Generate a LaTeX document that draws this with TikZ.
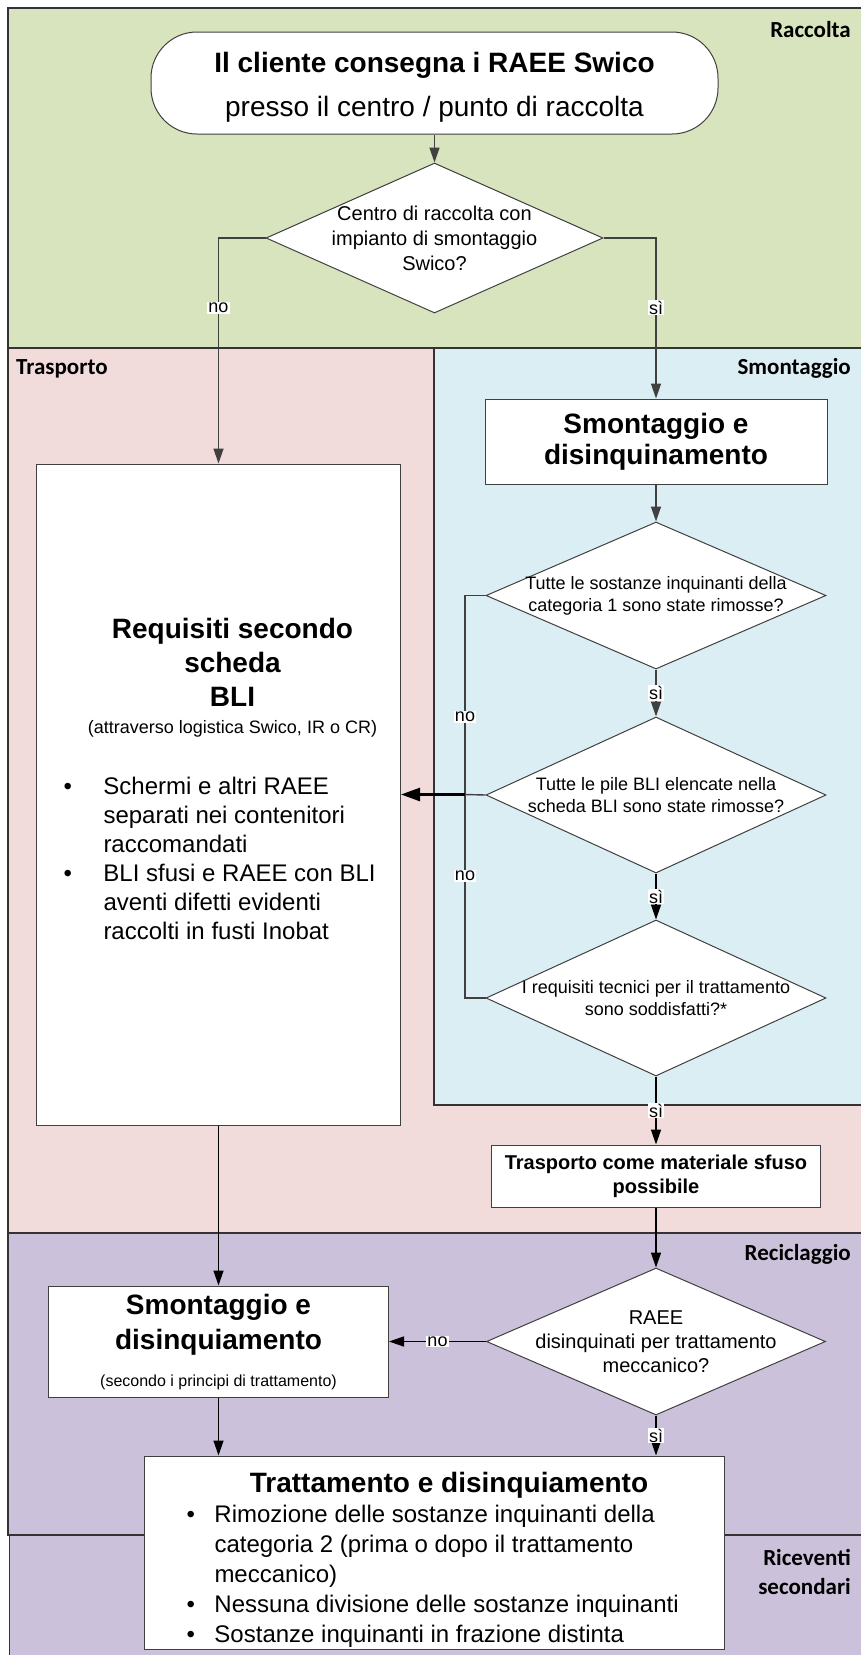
\documentclass[tikz,border=0pt]{standalone}
\usepackage{fontspec}
\setmainfont{Liberation Sans}
\newfontfamily\lanefont{Carlito}
\usepackage{tikz}
\usetikzlibrary{arrows.meta, shapes.geometric}
\usepackage{xcolor}

\definecolor{raccolta}{HTML}{D7E4BD}
\definecolor{trasporto}{HTML}{F2DCDB}
\definecolor{smontaggio}{HTML}{DBEEF3}
\definecolor{riciclo}{HTML}{CCC1DA}
\definecolor{linegray}{HTML}{404040}

\newcommand{\bul}[2]{\par\noindent\hangindent=#1\hangafter=1\makebox[#1][l]{\hspace{5pt}\textbullet}#2\par}
\newcommand{\offcenter}[1]{\leftskip=#1 plus 1fil\rightskip=0pt plus 1fil\parfillskip=0pt}

\begin{document}
\begin{tikzpicture}[x=1pt, y=-1pt,
        lane/.style={draw=black!80, line width=1.2pt},
        procbox/.style={draw=black!75, fill=white, line width=1pt, inner sep=0pt,
            execute at begin node={\spaceskip=0pt\xspaceskip=0pt}},
        decision/.style={diamond, draw=black!75, fill=white, line width=1pt, aspect=2.3,
            inner xsep=-35pt, inner ysep=-5pt, align=center,
            execute at begin node={\spaceskip=0pt\xspaceskip=0pt}},
        conn/.style={draw=linegray, line width=1.4pt},
        flow/.style={conn, -{Triangle[length=15pt, width=10pt]}},
        flowb/.style={draw=black, line width=1.4pt, -{Triangle[length=15pt, width=10pt]}},
        thickflow/.style={draw=black, line width=2.6pt, -{Triangle[length=19pt, width=13pt]}},
        lbl/.style={fill=white, inner sep=1pt, font=\fontsize{18}{18}\selectfont},
        lanelabel/.style={inner sep=0pt, text height=16pt, text depth=5pt,
            font=\lanefont\bfseries\fontsize{23}{29}\selectfont}]
            \useasboundingbox (0,0) rectangle (860,1655);
            \fill[white] (0,0) rectangle (860,1655);

            % lanes
            \draw[lane, fill=raccolta] (8,8) rectangle (866,348);
            \draw[lane, fill=trasporto] (8,348) rectangle (866,1233);
            \draw[lane, fill=smontaggio] (434,348) rectangle (866,1105);
            \draw[lane, line width=2.6pt] (434,1105) -- (866,1105);
            \draw[lane, fill=riciclo] (8,1233) rectangle (866,1535);
            \draw[lane, fill=riciclo] (9.5,1535) rectangle (866,1662);

            \node[lanelabel, anchor=east] (lraccolta) at (851,32) {Raccolta};
            \node[lanelabel, anchor=west] (ltrasporto) at (16,369) {Trasporto};
            \node[lanelabel, anchor=east] (lsmontaggio) at (851,369) {Smontaggio};
            \node[lanelabel, anchor=east] (lriciclaggio) at (851,1255) {Reciclaggio};
            \node[lanelabel, anchor=east, align=right, text height=, text depth=] (lriceventi) at (851,1572) {Riceventi\\ secondari};

            % steps
            \node[procbox, rounded corners=46pt, minimum width=567pt, minimum height=102pt, align=center,
                font=\fontsize{28}{44}\selectfont] (start) at (434.5,83)
                {{\bfseries\rule{0pt}{28pt}Il cliente consegna i RAEE Swico}\\ presso il centro / punto di raccolta};
            \node[decision, minimum width=337pt, minimum height=150pt, font=\fontsize{20}{25}\selectfont]
                (d1) at (434.5,238) {Centro di raccolta con\\ impianto di smontaggio\\ Swico?};

            \node[procbox, minimum width=364pt, minimum height=661pt, text width=320pt] (req) at (218.5,794.5) {%
                {\offcenter{28pt}\fontsize{28}{34}\selectfont\bfseries Requisiti secondo\\ scheda\\ BLI\par}
                {\offcenter{28pt}\fontsize{18}{27}\selectfont (attraverso logistica Swico, IR o CR)\par}
                \vspace{32pt}
                {\fontsize{24}{29}\selectfont
                \bul{45pt}{Schermi e altri RAEE\newline separati nei contenitori\newline raccomandati}
                \bul{45pt}{BLI sfusi e RAEE con BLI\newline aventi difetti evidenti\newline raccolti in fusti Inobat}
                \vspace{2pt}\mbox{}\par}};

            \node[procbox, minimum width=342pt, minimum height=85pt, align=center,
                font=\fontsize{28}{31}\selectfont\bfseries] (smont1) at (656,441.5) {Smontaggio e\\ disinquinamento};
            \node[decision, minimum width=340pt, minimum height=147pt, font=\fontsize{18}{22}\selectfont]
                (d2) at (656,595.5) {Tutte le sostanze inquinanti della\\ categoria 1 sono state rimosse?};
            \node[decision, minimum width=340pt, minimum height=156pt, font=\fontsize{18}{22}\selectfont]
                (d3) at (656,795) {Tutte le pile BLI elencate nella\\ scheda BLI sono state rimosse?};
            \node[decision, minimum width=340pt, minimum height=156pt, font=\fontsize{18}{22}\selectfont]
                (d4) at (656,998) {I requisiti tecnici per il trattamento\\ sono soddisfatti?*};
            \node[procbox, minimum width=329pt, minimum height=62pt, align=center,
                font=\fontsize{20}{24}\selectfont\bfseries] (trasp) at (656,1176) {Trasporto come materiale sfuso\\ possibile};

            \node[decision, minimum width=339pt, minimum height=147pt, font=\fontsize{20}{24}\selectfont]
                (d5) at (656,1341.5) {RAEE\\ disinquinati per trattamento\\ meccanico?};
            \node[procbox, minimum width=340pt, minimum height=111pt, text width=330pt] (smont2) at (218.5,1341.5) {%
                {\centering\fontsize{28}{35}\selectfont\bfseries Smontaggio e\\ disinquiamento\par}
                {\centering\fontsize{16}{37}\selectfont (secondo i principi di trattamento)\par}};
            \node[procbox, minimum width=580pt, minimum height=193pt, text width=505pt] (final) at (434,1552.5) {%
                {\offcenter{30pt}\fontsize{28}{33}\selectfont\bfseries\rule{0pt}{34pt}Trattamento e disinquiamento\par}
                {\fontsize{24}{30}\selectfont
                \bul{33pt}{Rimozione delle sostanze inquinanti della\newline categoria 2 (prima o dopo il trattamento\newline meccanico)}
                \bul{33pt}{Nessuna divisione delle sostanze inquinanti}
                \bul{33pt}{Sostanze inquinanti in frazione distinta}}};

            % connectors
            \draw[flow] (start) -- (d1);
            \draw[flow] (d1.west) -| (req.north) node[lbl, pos=0.655] {no};
            \draw[flow] (d1.east) -| (smont1.north) node[lbl, pos=0.717] {sì};
            \draw[flow] (smont1) -- (d2);
            \draw[flow] (d2) -- (d3) node[lbl, midway] {sì};
            \draw[flowb] (d3) -- (d4) node[lbl, midway] {sì};
            \draw[flowb] (d4) -- (trasp) node[lbl, midway] {sì};

            \coordinate (nojoin) at (465,794.5);
            \draw[conn] (d2.west) -| (nojoin) node[lbl, pos=0.805] {no};
            \draw[conn] (d4.west) -| (nojoin) node[lbl, pos=0.8] {no};
            \draw[conn] (d3.west) -- (nojoin);
            \draw[thickflow] (nojoin) -- (req.east);

            \draw[flowb] (req) -- (smont2);
            \draw[flowb] (trasp) -- (d5);
            \draw[flowb] (d5.west) -- (smont2.east) node[lbl, midway] {no};
            \draw[flowb] (smont2.south) -- (smont2.south |- final.north);
            \draw[flowb] (d5.south) -- (d5.south |- final.north) node[lbl, midway] {sì};
        \end{tikzpicture}
\end{document}
